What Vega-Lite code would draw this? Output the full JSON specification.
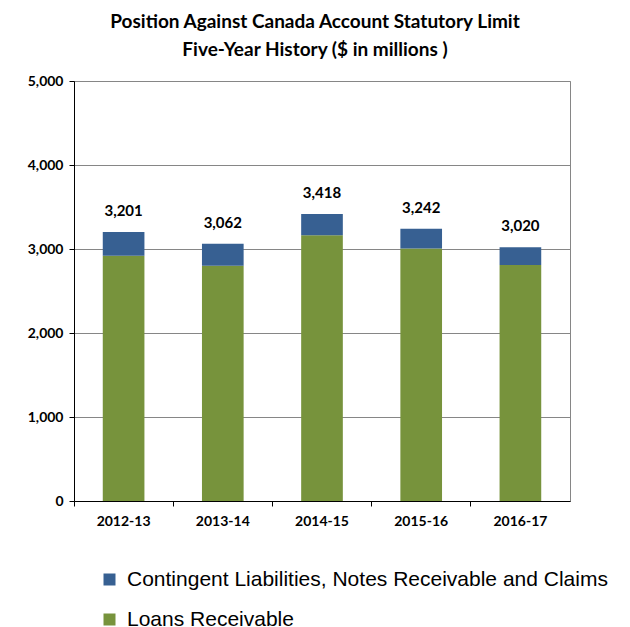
{
  "$schema": "https://vega.github.io/schema/vega-lite/v6.json",
  "width": 496,
  "height": 420,
  "autosize": "none",
  "padding": {"left": 74, "top": 81, "right": 60, "bottom": 126},
  "background": "white",
  "title": {
    "text": ["Position Against Canada Account Statutory Limit", "Five-Year History ($ in millions )"],
    "font": "Lato",
    "fontSize": 19,
    "fontWeight": "bold",
    "color": "#000000",
    "anchor": "middle",
    "offset": 14,
    "lineHeight": 28,
    "dx": -7
  },
  "config": {
    "view": {"stroke": "#868686", "strokeWidth": 1},
    "axis": {
      "labelFont": "Lato",
      "labelFontWeight": "bold",
      "labelFontSize": 14,
      "labelColor": "#000000",
      "domainColor": "#000000",
      "tickColor": "#000000",
      "title": null
    }
  },
  "datasets": {
    "parts": [
      {"year": "2012-13", "series": "Loans Receivable", "value": 2920},
      {"year": "2012-13", "series": "Contingent Liabilities, Notes Receivable and Claims", "value": 281},
      {"year": "2013-14", "series": "Loans Receivable", "value": 2800},
      {"year": "2013-14", "series": "Contingent Liabilities, Notes Receivable and Claims", "value": 262},
      {"year": "2014-15", "series": "Loans Receivable", "value": 3165},
      {"year": "2014-15", "series": "Contingent Liabilities, Notes Receivable and Claims", "value": 253},
      {"year": "2015-16", "series": "Loans Receivable", "value": 3005},
      {"year": "2015-16", "series": "Contingent Liabilities, Notes Receivable and Claims", "value": 237},
      {"year": "2016-17", "series": "Loans Receivable", "value": 2810},
      {"year": "2016-17", "series": "Contingent Liabilities, Notes Receivable and Claims", "value": 210}
    ],
    "totals": [
      {"year": "2012-13", "total": 3201},
      {"year": "2013-14", "total": 3062},
      {"year": "2014-15", "total": 3418},
      {"year": "2015-16", "total": 3242},
      {"year": "2016-17", "total": 3020}
    ]
  },
  "layer": [
    {
      "data": {"name": "parts"},
      "mark": {"type": "bar", "width": {"band": 0.42}},
      "encoding": {
        "x": {
          "field": "year",
          "type": "nominal",
          "scale": {"paddingInner": 0, "paddingOuter": 0},
          "axis": {
            "labelAngle": 0,
            "bandPosition": 0,
            "tickSize": 5,
            "labelPadding": 8,
            "grid": false
          }
        },
        "y": {
          "field": "value",
          "type": "quantitative",
          "aggregate": "sum",
          "stack": "zero",
          "scale": {"domain": [0, 5000]},
          "axis": {
            "values": [0, 1000, 2000, 3000, 4000, 5000],
            "format": ",d",
            "tickSize": 5,
            "labelPadding": 6,
            "grid": true,
            "gridColor": "#868686",
            "gridWidth": 1
          }
        },
        "color": {
          "field": "series",
          "type": "nominal",
          "scale": {
            "domain": ["Contingent Liabilities, Notes Receivable and Claims", "Loans Receivable"],
            "range": ["#376092", "#77933C"]
          },
          "legend": {
            "title": null,
            "orient": "none",
            "legendX": 25,
            "legendY": 488,
            "symbolType": "square",
            "symbolSize": 144,
            "symbolStrokeWidth": 0,
            "labelFont": "Liberation Sans",
            "labelFontSize": 21,
            "labelColor": "#000000",
            "labelLimit": 0,
            "rowPadding": 18,
            "labelOffset": 7
          }
        },
        "order": {"field": "series", "sort": "descending"}
      }
    },
    {
      "data": {"name": "totals"},
      "mark": {"type": "text", "dy": -21, "font": "Lato", "fontWeight": "bold", "fontSize": 15, "color": "#000000"},
      "encoding": {
        "x": {"field": "year", "type": "nominal"},
        "y": {"field": "total", "type": "quantitative"},
        "text": {"field": "total", "type": "quantitative", "format": ",d"}
      }
    }
  ]
}
